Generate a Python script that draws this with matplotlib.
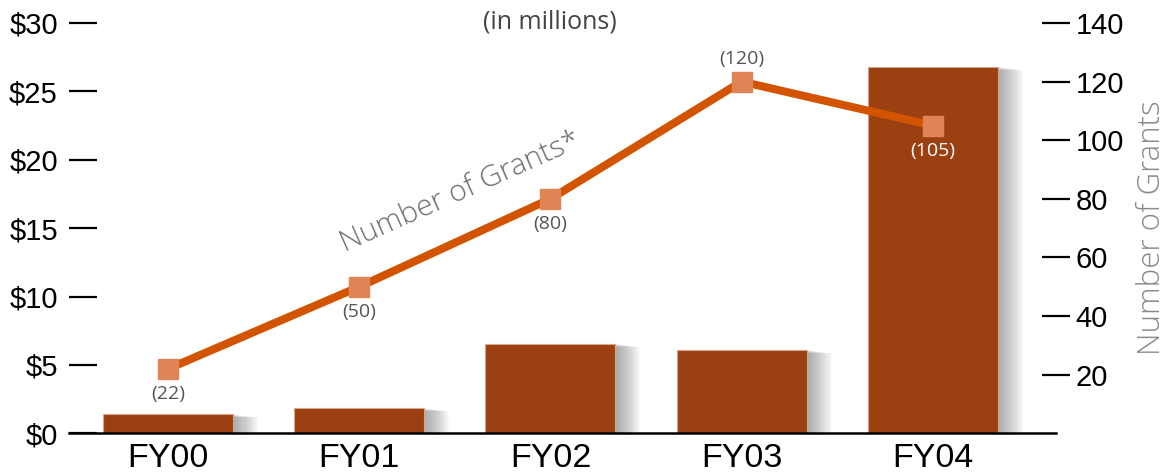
import numpy as np
import matplotlib
matplotlib.use("Agg")
import matplotlib.pyplot as plt
import matplotlib.patheffects as pe

# data
years = ["FY00", "FY01", "FY02", "FY03", "FY04"]
dollars = [1.4, 1.85, 6.55, 6.1, 26.8]        # $ millions (bars, left axis)
grants = [22, 50, 80, 120, 105]                # number of grants (line, right axis)
grant_labels = ["(22)", "(50)", "(80)", "(120)", "(105)"]
label_above = [False, False, False, True, False]
label_color = ["#555555", "#555555", "#555555", "#555555", "white"]

left_ticks = [0, 5, 10, 15, 20, 25, 30]
left_ticklabels = ["$0", "$5", "$10", "$15", "$20", "$25", "$30"]
right_ticks = [20, 40, 60, 80, 100, 120, 140]

plt.rcParams['font.family'] = ['Liberation Sans', 'DejaVu Sans']
soft = ['Open Sans', 'DejaVu Sans']

fig = plt.figure(figsize=(11.7, 4.75), dpi=100)
ax = fig.add_axes([69 / 1170, 1 - 433.3 / 475, (1056 - 69) / 1170, 410.3 / 475])
x = np.arange(len(years))

# soft drop shadow to the right of every bar
shadow = [pe.SimplePatchShadow(offset=(0.75 * i, -0.1 * i), shadow_rgbFace="#666666", alpha=0.028)
          for i in range(1, 25)]
ax.bar(x, dollars, width=0.68, color="#9B4011", edgecolor="#D9A58A", linewidth=0.8,
       path_effects=shadow + [pe.Normal()], zorder=2)

ax.set_xlim(-0.518, 4.644)
ax.set_ylim(0, 30)
ax.set_xticks(x)
ax.set_xticklabels(years, fontsize=24.5)
ax.tick_params(axis="x", length=0, pad=7)
ax.set_yticks(left_ticks)
ax.set_yticklabels(left_ticklabels, fontsize=21)
ax.tick_params(axis="y", direction="in", length=20, width=1.6, pad=8, color="black")
for s in ["top", "right", "left"]:
    ax.spines[s].set_visible(False)
ax.spines["bottom"].set_linewidth(1.8)
ax.spines["bottom"].set_zorder(5)

ax2 = ax.twinx()
ax2.set_ylim(0, 140)
ax2.set_yticks(right_ticks)
ax2.tick_params(axis="y", direction="inout", length=20, width=1.6, pad=4, labelsize=21)
for s in ["top", "right", "left", "bottom"]:
    ax2.spines[s].set_visible(False)
ax2.set_ylabel("Number of Grants", fontsize=22.5, color="#8a8a8a", family=soft,
               fontweight="light", labelpad=9)

ax2.plot(x, grants, color="#D35400", linewidth=5.8, marker="s", markersize=14.5,
         markerfacecolor="#DF8455", markeredgecolor="#DF8455", zorder=4)

for xi, g, txt, up, c in zip(x, grants, grant_labels, label_above, label_color):
    ax2.annotate(txt, (xi, g), xytext=(0, 16 if up else -18), textcoords="offset points",
                 ha="center", va="center", fontsize=14, color=c, family=soft)

ax.text(1.53, 17.6, "Number of Grants*", rotation=24, fontsize=21.5,
        color="#6e6e6e", ha="center", va="center", family=soft, fontweight="light")
fig.text(550 / 1170, 1 - 22 / 475, "(in millions)", ha="center", va="center",
         fontsize=18, color="#444444", family=soft)

plt.savefig("out.png", dpi=100)
